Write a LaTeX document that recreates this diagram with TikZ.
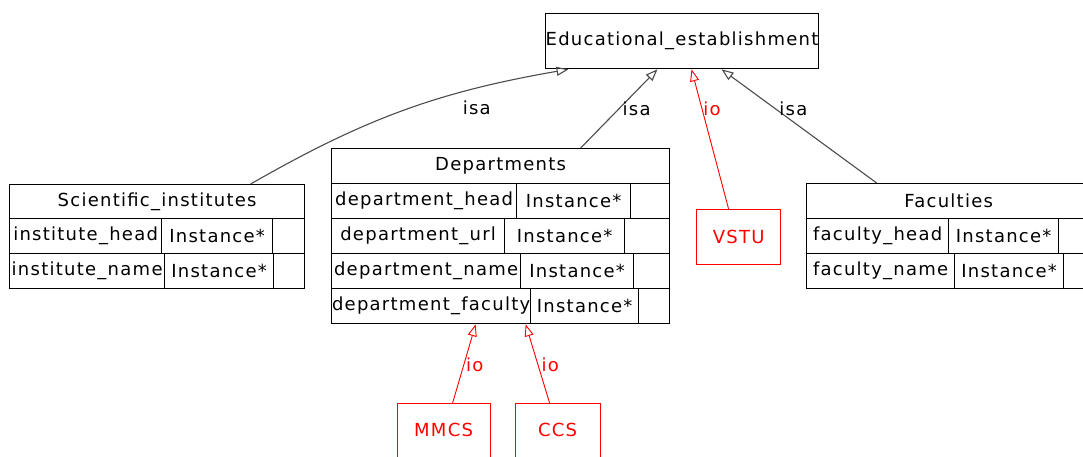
\documentclass[tikz,border=0pt]{standalone}
\usepackage{fontspec}
\setmainfont{DejaVu Sans}[LetterSpace=7]
\usetikzlibrary{arrows.meta}
\tikzstyle{cell} = [rectangle, draw=black, line width=1.3pt, inner sep=0pt, anchor=north west, minimum height=35pt, font=\fontsize{18}{21}\selectfont]
\tikzstyle{inst} = [rectangle, draw=red, text=red, line width=1.2pt, inner sep=0pt, anchor=north west, minimum height=55pt, font=\fontsize{18}{21}\selectfont]
\tikzstyle{cutbox} = [draw=red, line width=0.9pt]
\tikzstyle{isa} = [draw=black!70, line width=1.1pt, -{Triangle[open,length=12pt,width=9pt]}]
\tikzstyle{io} = [draw=red, line width=0.9pt, -{Triangle[open,length=12pt,width=9pt]}]
\tikzstyle{lbl} = [font=\fontsize{18}{21}\selectfont, inner sep=3pt]

\begin{document}
\begin{tikzpicture}[x=1pt, y=-1pt]
\path[use as bounding box, fill=white] (0,0) rectangle (1083,456);

\node (edu) [cell, minimum width=263, minimum height=55] at (545,13) {Educational\_establishment};

% Scientific_institutes
\node (sci) [cell, minimum width=295, minimum height=34] at (9,184) {Scientific\_institutes};
\foreach \rowno/\ypos/\xa/\xb/\attr in {1/218/161/272/institute\_head, 2/253/164/273/institute\_name}{
  \node (sci\rowno a) [cell, minimum width=\xa-9] at (9,\ypos) {\attr};
  \node (sci\rowno b) [cell, minimum width=\xb-\xa] at (\xa,\ypos) {Instance*};
  \node (sci\rowno c) [cell, minimum width=304-\xb] at (\xb,\ypos) {};
}

% Departments
\node (dep) [cell, minimum width=338] at (331,148) {Departments};
\foreach \rowno/\ypos/\xa/\xb/\attr in {1/183/516/630/department\_head, 2/218/504/624/department\_url, 3/253/520/633/department\_name, 4/288/530/638/department\_faculty}{
  \node (dep\rowno a) [cell, minimum width=\xa-331] at (331,\ypos) {\attr};
  \node (dep\rowno b) [cell, minimum width=\xb-\xa] at (\xa,\ypos) {Instance*};
  \node (dep\rowno c) [cell, minimum width=669-\xb] at (\xb,\ypos) {};
}

% Faculties
\node (fac) [cell, minimum width=284] at (806,183) {Faculties};
\foreach \rowno/\ypos/\xa/\xb/\attr in {1/218/948/1058/faculty\_head, 2/253/954/1063/faculty\_name}{
  \node (fac\rowno a) [cell, minimum width=\xa-806] at (806,\ypos) {\attr};
  \node (fac\rowno b) [cell, minimum width=\xb-\xa] at (\xa,\ypos) {Instance*};
  \node (fac\rowno c) [cell, minimum width=1090-\xb] at (\xb,\ypos) {};
}

% instances (the lower two run off the bottom edge)
\node (vstu) [inst, minimum width=84] at (696,209) {VSTU};
\node (mmcs) [inst, draw=none, minimum width=92, minimum height=53] at (397,403) {\raisebox{-2pt}{MMCS}};
\node (ccs) [inst, draw=none, minimum width=84, minimum height=53] at (515,403) {\raisebox{-2pt}{CCS}};
\draw [cutbox] (mmcs.south west) |- (mmcs.north east) -- (mmcs.south east);
\draw [cutbox] (ccs.south west) |- (ccs.north east) -- (ccs.south east);

\draw [isa] ([xshift=93.5pt]sci.north) to[bend left=10] node[lbl, pos=0.74, below=9pt] {isa} ([xshift=-113.5pt]edu.south);
\draw [isa] ([xshift=80pt]dep.north) -- node[lbl, pos=0.5, right] {isa} ([xshift=-24.5pt]edu.south);
\draw [io] ([xshift=-10pt]vstu.north) -- node[lbl, pos=0.72, right, text=red, inner sep=1pt] {io} ([xshift=9.5pt]edu.south);
\draw [isa] ([xshift=-72pt]fac.north) -- node[lbl, pos=0.65, right] {isa} ([xshift=39.5pt]edu.south);
\draw [io] ([xshift=9pt]mmcs.north) -- node[lbl, pos=0.48, right, text=red, inner sep=2pt] {io} ([xshift=44.5pt]dep4a.south);
\draw [io] ([xshift=-8pt]ccs.north) -- node[lbl, pos=0.48, right, text=red, inner sep=3pt] {io} ([xshift=94.5pt]dep4a.south);

\end{tikzpicture}
\end{document}
